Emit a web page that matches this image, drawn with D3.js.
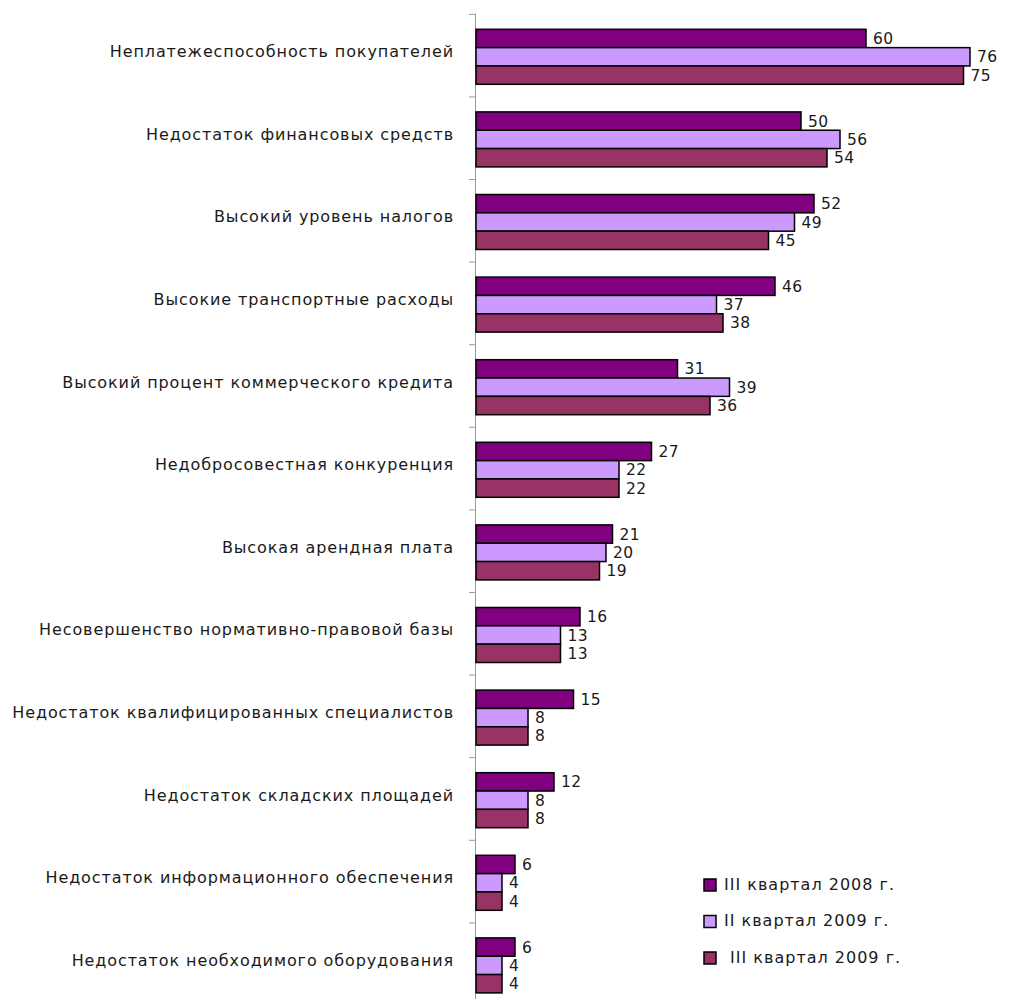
<!DOCTYPE html>
<html><head><meta charset="utf-8">
<script src="https://cdn.jsdelivr.net/npm/d3@7"></script>
<style>body{margin:0;background:#fff}svg{display:block}text{font-family:"DejaVu Sans",sans-serif;fill:#1a1a1a}</style>
</head><body><svg id="c" width="1016" height="999"></svg>
<script>
const categories = [
  "Неплатежеспособность покупателей",
  "Недостаток финансовых средств",
  "Высокий уровень налогов",
  "Высокие транспортные расходы",
  "Высокий процент коммерческого кредита",
  "Недобросовестная конкуренция",
  "Высокая арендная плата",
  "Несовершенство нормативно-правовой базы",
  "Недостаток квалифицированных специалистов",
  "Недостаток складских площадей",
  "Недостаток информационного обеспечения",
  "Недостаток необходимого оборудования"
];
const seriesNames = ["III квартал 2008 г.", "II квартал 2009 г.", " III квартал 2009 г."];
const q3_2008 = [60, 50, 52, 46, 31, 27, 21, 16, 15, 12, 6, 6];
const q2_2009 = [76, 56, 49, 37, 39, 22, 20, 13, 8, 8, 4, 4];
const q3_2009 = [75, 54, 45, 38, 36, 22, 19, 13, 8, 8, 4, 4];
const colors = ["#800080", "#cc99ff", "#993366"];

const seriesVals = [q3_2008, q2_2009, q3_2009];
const svg = d3.select("#c");
const x0 = 476, plotTop = 14.3, band = 82.6;
const x = d3.scaleLinear().domain([0, 10]).range([x0, x0 + 65]);
const y = d3.scaleBand().domain(categories).range([plotTop, plotTop + band * categories.length]).padding(0);
const ys = d3.scaleBand().domain([0, 1, 2]).range([15, 70]).padding(0);

// axis line
svg.append("line").attr("x1", x0 - 0.5).attr("x2", x0 - 0.5)
  .attr("y1", plotTop).attr("y2", plotTop + band * 12).attr("stroke", "#999");
// ticks at band boundaries
const bounds = d3.range(categories.length + 1).map(i => plotTop + i * band);
svg.append("g").selectAll("line").data(bounds).join("line")
  .attr("x1", x0 - 7).attr("x2", x0).attr("y1", d => d).attr("y2", d => d)
  .attr("stroke", "#999");

// category labels
svg.append("g").selectAll("text").data(categories).join("text")
  .attr("x", 454).attr("y", d => y(d) + y.bandwidth() / 2 - 3)
  .attr("text-anchor", "end").attr("dominant-baseline", "middle")
  .attr("font-size", 16).attr("letter-spacing", 0.9).text(d => d);

// bars
seriesVals.forEach((vals, si) => {
  const g = svg.append("g");
  g.selectAll("rect").data(vals).join("rect")
    .attr("x", x(0)).attr("y", (d, i) => y(categories[i]) + ys(si))
    .attr("width", d => x(d) - x(0)).attr("height", ys.bandwidth())
    .attr("fill", colors[si]).attr("stroke", "#000").attr("stroke-width", 1.5);
  g.selectAll("text").data(vals).join("text")
    .attr("x", d => x(d) + 7).attr("y", (d, i) => y(categories[i]) + ys(si) + ys.bandwidth() / 2 + 1)
    .attr("dominant-baseline", "middle").attr("font-size", 15.5).attr("letter-spacing", 0.5).text(d => d);
});

// legend
const leg = svg.append("g");
seriesNames.forEach((n, i) => {
  const ly = 885 + i * 36.5;
  leg.append("rect").attr("x", 704).attr("y", ly - 6).attr("width", 12).attr("height", 12)
    .attr("fill", colors[i]).attr("stroke", "#000").attr("stroke-width", 1.5);
  leg.append("text").attr("x", 724).attr("y", ly).attr("dominant-baseline", "middle")
    .attr("font-size", 16).attr("letter-spacing", 1).style("white-space", "pre").text(n);
});
</script></body></html>
